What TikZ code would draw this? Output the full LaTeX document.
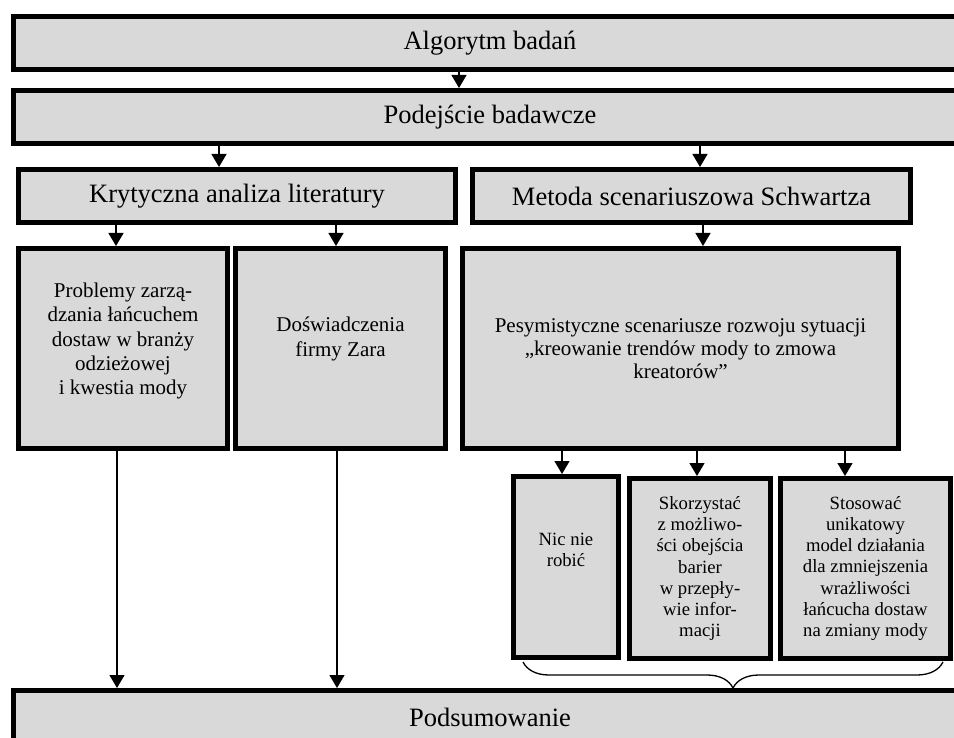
\documentclass[tikz,border=0pt]{standalone}
\usepackage{fontspec}
\setmainfont{Liberation Serif}
\usetikzlibrary{arrows.meta,decorations.pathreplacing}
\definecolor{boxgray}{HTML}{D9D9D9}
\begin{document}
\begin{tikzpicture}[x=1pt,y=-1pt,
  box/.style={draw=black, fill=boxgray, line width=5pt, outer sep=2.5pt, inner sep=0pt, anchor=center},
  big/.style={font=\fontsize{26.5}{30}\selectfont},
  mid/.style={font=\fontsize{21}{24.2}\selectfont, align=center, inner sep=0pt},
  small/.style={font=\fontsize{18.7}{21.3}\selectfont, align=center, inner sep=0pt},
  arr/.style={line width=1.3pt, -{Triangle[length=13pt,width=15pt]}}
]
\useasboundingbox (0,0) rectangle (954,738);
\clip (0,0) rectangle (954,738);

% boxes
\node[box, big, minimum width=953pt, minimum height=53pt] (A) at (490,43) {Algorytm badań};
\node[box, big, minimum width=953pt, minimum height=53pt] (B) at (490,117) {Podejście badawcze};
\node[box, big, minimum width=437pt, minimum height=53pt] (C) at (237,196) {Krytyczna analiza literatury};
\node[box, big, minimum width=438pt, minimum height=53pt] (D) at (691.5,196) {Metoda scenariuszowa Schwartza};
\node[box, minimum width=209pt, minimum height=200pt] (E) at (123,348.5) {};
\node[box, minimum width=210pt, minimum height=200pt] (F) at (340.5,348.5) {};
\node[box, minimum width=436pt, minimum height=200pt, font=\fontsize{21}{23}\selectfont, align=center] (G) at (680.5,348.5)
  {Pesymistyczne scenariusze rozwoju sytuacji\\„kreowanie trendów mody to zmowa\\kreatorów”};
\node[box, minimum width=105pt, minimum height=181pt] (H) at (566,567) {};
\node[box, small, minimum width=141pt, minimum height=180pt] (I) at (700,568.5)
  {Skorzystać\\z możliwo-\\ści obejścia\\barier\\w przepły-\\wie infor-\\macji};
\node[box, small, minimum width=170pt, minimum height=180pt] (J) at (865.5,568.5)
  {Stosować\\unikatowy\\model działania\\dla zmniejszenia\\wrażliwości\\łańcucha dostaw\\na zmiany mody};
\node[box, big, minimum width=953pt, minimum height=53pt] (K) at (490,717) {Podsumowanie};

% texts placed off-centre
\node[mid] (tE) at (123,341) {Problemy zarzą-\\dzania łańcuchem\\dostaw w branży\\odzieżowej\\i kwestia mody};
\node[mid] (tF) at (340.5,339) {Doświadczenia\\firmy Zara};
\node[small] (tH) at (566,550) {Nic nie\\robić};

% arrow columns
\coordinate (x1) at (459,0);
\coordinate (x2) at (219,0);
\coordinate (x3) at (700,0);
\coordinate (x4) at (116,0);
\coordinate (x5) at (336,0);
\coordinate (x6) at (703,0);
\coordinate (x7) at (117,0);
\coordinate (x8) at (337,0);
\coordinate (x9) at (562,0);
\coordinate (x10) at (697,0);
\coordinate (x11) at (845,0);

\draw[arr] (x1 |- A.south) -- (x1 |- B.north);
\draw[arr] (x2 |- B.south) -- (x2 |- C.north);
\draw[arr] (x3 |- B.south) -- (x3 |- D.north);
\draw[arr] (x4 |- C.south) -- (x4 |- E.north);
\draw[arr] (x5 |- C.south) -- (x5 |- F.north);
\draw[arr] (x6 |- D.south) -- (x6 |- G.north);
\draw[arr] (x7 |- E.south) -- (x7 |- K.north);
\draw[arr] (x8 |- F.south) -- (x8 |- K.north);
\draw[arr] (x9 |- G.south) -- (x9 |- H.north);
\draw[arr] (x10 |- G.south) -- (x10 |- I.north);
\draw[arr] (x11 |- G.south) -- (x11 |- J.north);

% brace
\coordinate (br1) at (943,662);
\coordinate (br2) at (523,662);
\draw[line width=1.3pt, decorate, decoration={brace, amplitude=26pt}] (br1) -- (br2);
\end{tikzpicture}
\end{document}
